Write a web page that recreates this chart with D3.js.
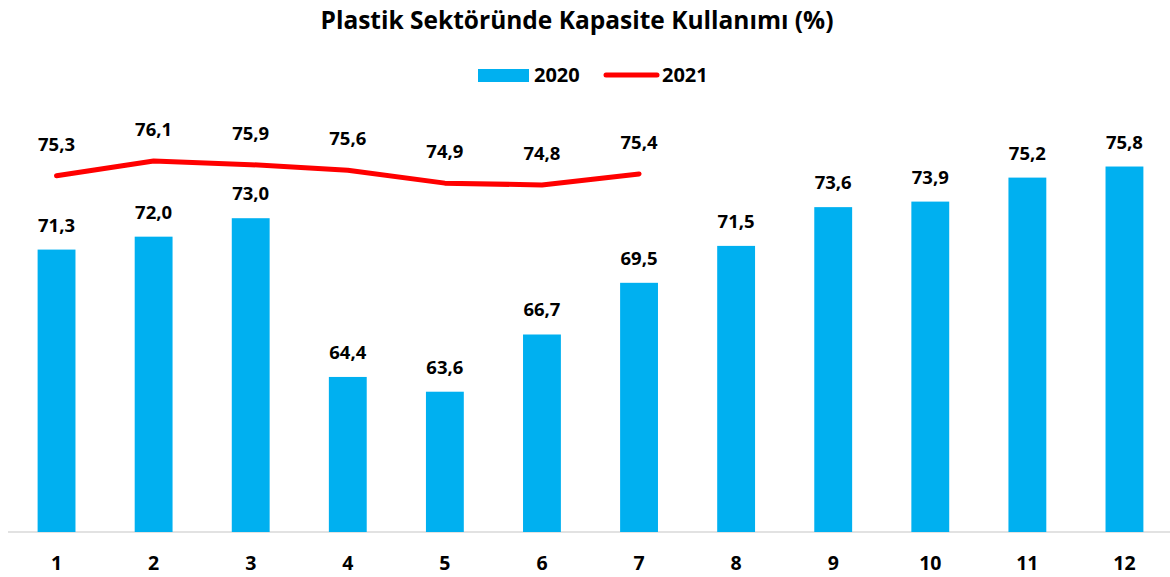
<!DOCTYPE html>
<html>
<head>
<meta charset="utf-8">
<script src="https://cdn.jsdelivr.net/npm/d3@7"></script>
<style>
  body { margin: 0; background: #fff; }
  text { font-family: "Open Sans", "Noto Sans", sans-serif; font-weight: bold; fill: #000; }
</style>
</head>
<body>
<div id="chart"></div>
<script>
var months = ["1","2","3","4","5","6","7","8","9","10","11","12"];
var values2020 = [71.3, 72.0, 73.0, 64.4, 63.6, 66.7, 69.5, 71.5, 73.6, 73.9, 75.2, 75.8];
var values2021 = [75.3, 76.1, 75.9, 75.6, 74.9, 74.8, 75.4];

var width = 1170, height = 577;
var fmt = function(v) { return v.toFixed(1).replace(".", ","); };

var svg = d3.select("#chart").append("svg")
    .attr("width", width)
    .attr("height", height);

var x = d3.scaleBand()
    .domain(months)
    .range([8, 1173])
    .paddingInner(0.61)
    .paddingOuter(0.305);

var y = d3.scaleLinear()
    .domain([56, 80])
    .range([532, 89]);

// title
svg.append("text")
    .attr("x", 577)
    .attr("y", 29)
    .attr("text-anchor", "middle")
    .style("font-size", "24.5px")
    .text("Plastik Sektöründe Kapasite Kullanımı (%)");

// legend
var leg = svg.append("g");
leg.append("rect").attr("x", 478).attr("y", 69).attr("width", 51).attr("height", 13).attr("fill", "#00B0F0");
leg.append("text").attr("x", 534).attr("y", 82).style("font-size", "20px").text("2020");
leg.append("line").attr("x1", 606).attr("x2", 657).attr("y1", 75).attr("y2", 75)
    .attr("stroke", "#FF0000").attr("stroke-width", 5).attr("stroke-linecap", "round");
leg.append("text").attr("x", 662).attr("y", 82).style("font-size", "20px").text("2021");

// axis line
svg.append("line")
    .attr("x1", 8).attr("x2", 1170)
    .attr("y1", y(56)).attr("y2", y(56))
    .attr("stroke", "#D9D9D9").attr("stroke-width", 1.5);

// bars
svg.selectAll("rect.bar")
    .data(values2020)
    .enter()
    .append("rect")
    .attr("class", "bar")
    .attr("x", function(d, i) { return x(months[i]); })
    .attr("y", function(d) { return y(d); })
    .attr("width", x.bandwidth())
    .attr("height", function(d) { return y(56) - y(d); })
    .attr("fill", "#00B0F0");

svg.selectAll("text.barlabel")
    .data(values2020)
    .enter()
    .append("text")
    .attr("class", "barlabel")
    .attr("x", function(d, i) { return x(months[i]) + x.bandwidth() / 2; })
    .attr("y", function(d) { return y(d) - 18; })
    .attr("text-anchor", "middle")
    .style("font-size", "18.5px")
    .text(fmt);

// 2021 line
var line = d3.line()
    .x(function(d, i) { return x(months[i]) + x.bandwidth() / 2; })
    .y(function(d) { return y(d); });

svg.append("path")
    .datum(values2021)
    .attr("d", line)
    .attr("fill", "none")
    .attr("stroke", "#FF0000")
    .attr("stroke-width", 5)
    .attr("stroke-linecap", "round")
    .attr("stroke-linejoin", "round");

svg.selectAll("text.linelabel")
    .data(values2021)
    .enter()
    .append("text")
    .attr("class", "linelabel")
    .attr("x", function(d, i) { return x(months[i]) + x.bandwidth() / 2; })
    .attr("y", function(d) { return y(d) - 25; })
    .attr("text-anchor", "middle")
    .style("font-size", "18.5px")
    .text(fmt);

// x tick labels
svg.selectAll("text.tick")
    .data(months)
    .enter()
    .append("text")
    .attr("class", "tick")
    .attr("x", function(d) { return x(d) + x.bandwidth() / 2; })
    .attr("y", 570)
    .attr("text-anchor", "middle")
    .style("font-size", "19.5px")
    .text(function(d) { return d; });
</script>
</body>
</html>
